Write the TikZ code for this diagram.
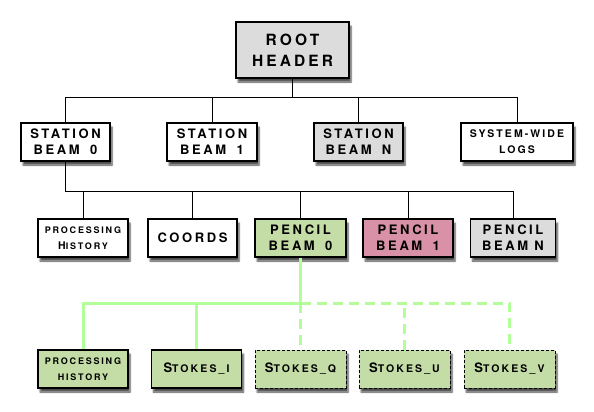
\documentclass[tikz,border=0pt]{standalone}
\usepackage{fontspec}
\newfontfamily\copp[LetterSpace=20]{TeX Gyre Heros}
\usetikzlibrary{shadows.blur}

\definecolor{boxgray}{HTML}{DCDCDC}
\definecolor{boxgreen}{HTML}{C4DCA6}
\definecolor{boxpink}{HTML}{D891A6}
\definecolor{linegreen}{HTML}{B2FF9A}

\newcommand{\smc}[1]{{\fontsize{10.5}{12}\selectfont #1}}
\newcommand{\tinyc}[1]{{\fontsize{9}{12}\selectfont #1}}

\tikzstyle{block} = [rectangle, draw, line width=1.1pt, fill=white,
    align=center, minimum width=89pt, minimum height=38pt, inner sep=0pt,
    font=\copp\bfseries\fontsize{13}{16}\selectfont,
    blur shadow={shadow xshift=2pt, shadow yshift=-4pt, shadow blur steps=6, shadow opacity=70}]
\tikzstyle{rootblock} = [block, line width=2pt, fill=boxgray,
    minimum width=113pt, minimum height=56pt,
    font=\copp\bfseries\fontsize{15.5}{21}\selectfont]
\tikzstyle{dblock} = [block, dashed, dash pattern=on 3pt off 2pt, line width=0.9pt, fill=boxgreen]
\tikzstyle{line} = [draw, line width=0.8pt]
\tikzstyle{gline} = [draw, linegreen, line width=3pt]
\tikzstyle{dgline} = [gline, dash pattern=on 10pt off 6pt]

\begin{document}
\begin{tikzpicture}[x=1pt, y=-1pt]
    \useasboundingbox (0,0) rectangle (594,412);

    % Place nodes
    \node [rootblock] (root) at (292.5,50) {ROOT\\HEADER};

    \node [block] (sb0) at (65.5,142) {STATION\\BEAM\hspace{4pt} 0};
    \node [block, minimum width=90pt] (sb1) at (212,142) {STATION\\BEAM\hspace{4pt} 1};
    \node [block, fill=boxgray] (sbn) at (358.5,142) {STATION\\BEAM\hspace{4pt} N};
    \node [block, minimum width=112pt] (logs) at (517,142) {\smc{SYSTEM-WIDE}\\\smc{LOGS}};

    \node [block, minimum width=90pt] (hist) at (83,238) {\tinyc{PROCESSING}\\\smc{H}\tinyc{ISTORY}};
    \node [block] (coords) at (192.5,238) {COORDS};
    \node [block, minimum width=91pt, fill=boxgreen] (pb0) at (300.5,238) {PENCIL\\BEAM\hspace{4pt} 0};
    \node [block, minimum width=90pt, fill=boxpink] (pb1) at (408,238) {PENCIL\\BEAM\hspace{4pt} 1};
    \node [block, minimum width=85pt, fill=boxgray] (pbn) at (513,238) {PENCIL\\BEAM N};

    \node [block, minimum width=90pt, fill=boxgreen] (phist) at (83,369) {\tinyc{PROCESSING}\\\tinyc{HISTORY}};
    \node [block, minimum width=90pt, fill=boxgreen] (si) at (196.5,369) {S\smc{TOKES\_I}};
    \node [dblock, minimum width=91pt] (sq) at (300.5,369) {S\smc{TOKES\_Q}};
    \node [dblock, minimum width=91pt] (su) at (404.5,369) {S\smc{TOKES\_U}};
    \node [dblock, minimum width=91pt] (sv) at (509.5,369) {S\smc{TOKES\_V}};

    % Draw edges
    \path [line] (root.south) -- (292.5,97);
    \path [line] (sb0.north) |- (logs.north |- 0,97) -- (logs.north);
    \path [line] (sb1.north) -- (sb1.north |- 0,97);
    \path [line] (sbn.north) -- (sbn.north |- 0,97);

    \path [line] (sb0.south) -- (65.5,191) -- (pbn.north |- 0,191) -- (pbn.north);
    \path [line] (hist.north) -- (hist.north |- 0,191);
    \path [line] (coords.north) -- (coords.north |- 0,191);
    \path [line] (pb0.north) -- (pb0.north |- 0,191);
    \path [line] (pb1.north) -- (pb1.north |- 0,191);

    \path [gline] (pb0.south) -- (300.5,303) -| (phist.north);
    \path [gline] (si.north) -- (si.north |- 0,303);
    \path [dgline] (300.5,303) -- (sq.north);
    \path [dgline] (300.5,303) -| (sv.north);
    \path [dgline] (su.north) -- (su.north |- 0,303);

\end{tikzpicture}
\end{document}
